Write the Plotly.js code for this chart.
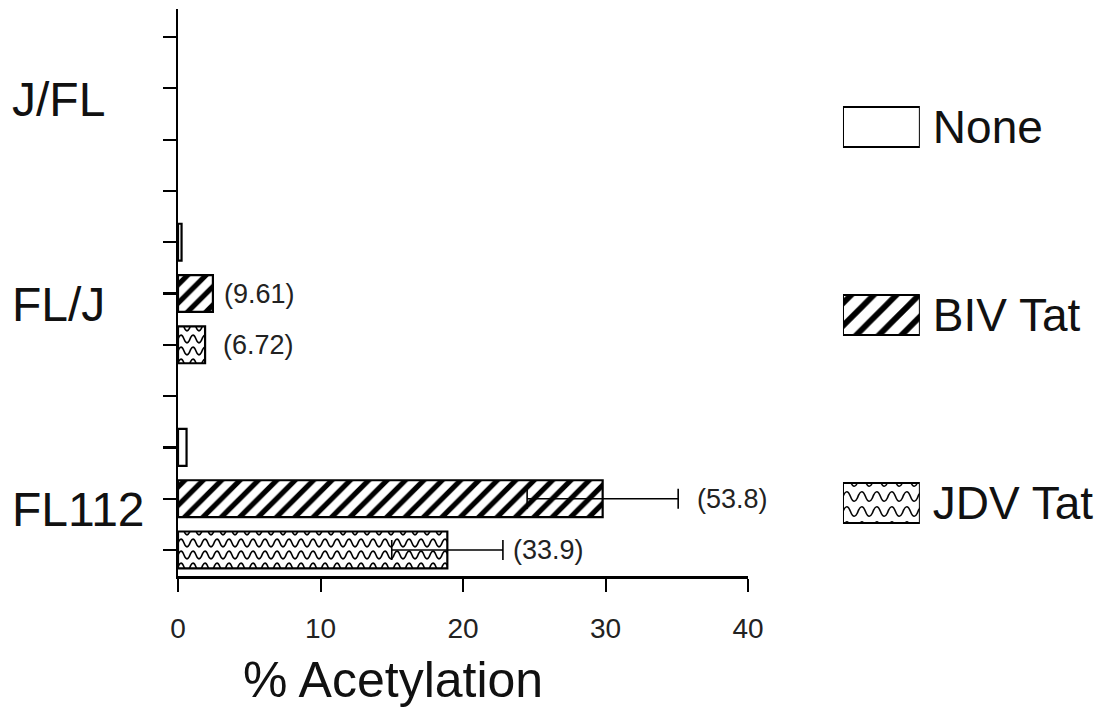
<!DOCTYPE html>
<html>
<head>
<meta charset="utf-8">
<script src="https://cdn.plot.ly/plotly-3.0.1.min.js"></script>
<style>
  html, body { margin: 0; padding: 0; background: #ffffff; }
  #chart { width: 1110px; height: 727px; }
</style>
</head>
<body>
<div id="chart"></div>
<script>
// ---- data ----
const groups = ['J/FL', 'FL/J', 'FL112'];
const seriesNames = ['None', 'BIV Tat', 'JDV Tat'];
const noneValues = [0, 0.25, 0.6];
const bivValues = [0, 2.45, 29.8];
const jdvValues = [0, 1.9, 18.9];
const bivErrors = [NaN, NaN, 5.3];
const jdvErrors = [NaN, NaN, 3.9];
const bivLabels = ['', '(9.61)', '(53.8)'];
const jdvLabels = ['', '(6.72)', '(33.9)'];
const xTicks = [0, 10, 20, 30, 40];
const xTitle = '% Acetylation';

// ---- styles ----
const FONT = 'Liberation Sans, Arial, Helvetica, sans-serif';
const bivLabelShift = [0, 9, 17];   // px gap after bar / error cap
const jdvLabelShift = [0, 16, 8];

// ---- layout helpers ----
const nG = groups.length;
// slot of series s in group g (top group first, series top to bottom)
function slot(g, s) { return (nG - 1 - g) * 4 + (2 - s); }
const allSlots = [];
for (let i = 0; i <= (nG - 1) * 4 + 2; i++) allSlots.push(i);

const seriesValues = [noneValues, bivValues, jdvValues];
const seriesErrors = [null, bivErrors, jdvErrors];
const patterns = [
  { shape: '', bgcolor: '#ffffff' },
  { shape: '/', size: 13, solidity: 0.4, fgcolor: '#000000', bgcolor: '#ffffff', fillmode: 'replace' },
  { shape: '-', size: 12, solidity: 0.13, fgcolor: '#010101', bgcolor: '#ffffff', fillmode: 'replace' }
];

const traces = seriesNames.map((name, s) => {
  const t = {
    type: 'bar',
    orientation: 'h',
    name: name,
    x: seriesValues[s],
    y: groups.map((_, g) => slot(g, s)),
    width: 0.72,
    marker: {
      color: '#ffffff',
      line: { color: '#000000', width: seriesValues[s].map(v => (v > 0 ? 2.2 : 0)) },
      pattern: patterns[s]
    },
    showlegend: false,
    hoverinfo: 'x+name',
    xaxis: 'x', yaxis: 'y'
  };
  if (seriesErrors[s]) {
    t.error_x = { type: 'data', array: seriesErrors[s], symmetric: true, color: '#000000', thickness: 1.6, width: 10 };
  }
  return t;
});

// legend swatches drawn as bars in a small side subplot
traces.push({
  type: 'bar', orientation: 'h',
  x: seriesNames.map(() => 1),
  y: seriesNames,
  width: 0.213,
  marker: {
    color: '#ffffff',
    line: { color: '#000000', width: 2 },
    pattern: {
      shape: patterns.map(p => p.shape),
      size: [14, 16, 15], solidity: [0.3, 0.36, 0.13],
      fgcolor: ['#000000', '#000000', '#010101'],
      bgcolor: '#ffffff', fillmode: 'replace'
    }
  },
  showlegend: false, hoverinfo: 'y',
  xaxis: 'x2', yaxis: 'y2'
});

const annotations = [];
[[bivValues, bivErrors, bivLabels, bivLabelShift, 1], [jdvValues, jdvErrors, jdvLabels, jdvLabelShift, 2]].forEach(([vals, errs, labs, shifts, s]) => {
  vals.forEach((v, g) => {
    if (!labs[g]) return;
    const e = isNaN(errs[g]) ? 0 : errs[g];
    annotations.push({
      x: v + e, y: slot(g, s), xref: 'x', yref: 'y',
      text: labs[g], showarrow: false, xanchor: 'left', yanchor: 'middle',
      xshift: shifts[g],
      font: { family: FONT, size: 27, color: '#222222' }
    });
  });
});
// group (category) labels, left aligned like the original
groups.forEach((gname, g) => {
  annotations.push({
    x: -0.18, y: slot(g, 1), xref: 'paper', yref: 'y',
    text: gname, showarrow: false, xanchor: 'left', yanchor: 'middle',
    yshift: -11,
    font: { family: FONT, size: 48, color: '#111111' }
  });
});
annotations.push({
  x: 0.2307, y: -0.183, xref: 'paper', yref: 'paper',
  text: xTitle, showarrow: false, xanchor: 'center', yanchor: 'middle',
  font: { family: FONT, size: 50, color: '#111111' }
});

const layout = {
  width: 1110, height: 727,
  margin: { l: 178, r: 0, t: 9, b: 151 },
  paper_bgcolor: '#ffffff', plot_bgcolor: '#ffffff',
  font: { family: FONT, color: '#111111' },
  barmode: 'overlay',
  showlegend: false,
  xaxis: {
    domain: [0, 0.6116], range: [0, 40],
    tickvals: xTicks, ticktext: xTicks.map(String),
    ticks: 'outside', ticklen: 13, tickwidth: 2, tickcolor: '#000000',
    showline: true, linecolor: '#000000', linewidth: 2.5,
    showgrid: false, zeroline: false,
    tickfont: { family: FONT, size: 28, color: '#222222' },
    ticklabelstandoff: 13,
    fixedrange: true
  },
  yaxis: {
    domain: [0, 1], range: [-0.507, 10.546],
    tickvals: allSlots, showticklabels: false,
    ticks: 'outside', ticklen: 13, tickwidth: 2.2, tickcolor: '#000000',
    showline: true, linecolor: '#000000', linewidth: 2.5,
    showgrid: false, zeroline: false,
    fixedrange: true
  },
  xaxis2: {
    domain: [0.7135, 0.796], range: [0, 1], anchor: 'y2',
    visible: false, fixedrange: true
  },
  yaxis2: {
    domain: [0, 1], anchor: 'x2', type: 'category',
    categoryorder: 'array', categoryarray: seriesNames,
    range: [2.388, -0.628], side: 'right',
    showline: false, ticks: '', showgrid: false, zeroline: false,
    tickfont: { family: FONT, size: 46, color: '#111111' },
    ticklabelstandoff: 12, fixedrange: true
  },
  annotations: annotations
};

Plotly.newPlot('chart', traces, layout, { displayModeBar: false, staticPlot: true }).then(() => {
  // turn the JDV horizontal-line pattern into a wavy line pattern
  document.querySelectorAll('pattern').forEach(pat => {
    const path = pat.querySelector('path');
    if (!path) return;
    const st = (path.getAttribute('stroke') || '') + ';' + (path.getAttribute('style') || '');
    if (!/#010101|rgb\(1,\s*1,\s*1\)/i.test(st)) return;
    const w = parseFloat(pat.getAttribute('width')) || 12;
    const h = parseFloat(pat.getAttribute('height')) || 12;
    const m = h / 2, a = h * 0.32;
    path.setAttribute('d', 'M' + (-w) + ',' + m + ' Q' + (-w * 0.75) + ',' + (m - 2 * a) + ' ' + (-w / 2) + ',' + m +
      ' T0,' + m + ' T' + (w / 2) + ',' + m + ' T' + w + ',' + m + ' T' + (1.5 * w) + ',' + m + ' T' + (2 * w) + ',' + m);
    path.setAttribute('stroke-width', '1.6px');
    path.style.strokeWidth = '1.6px';
    path.setAttribute('fill', 'none');
    path.style.fill = 'none';
  });
});
</script>
</body>
</html>
